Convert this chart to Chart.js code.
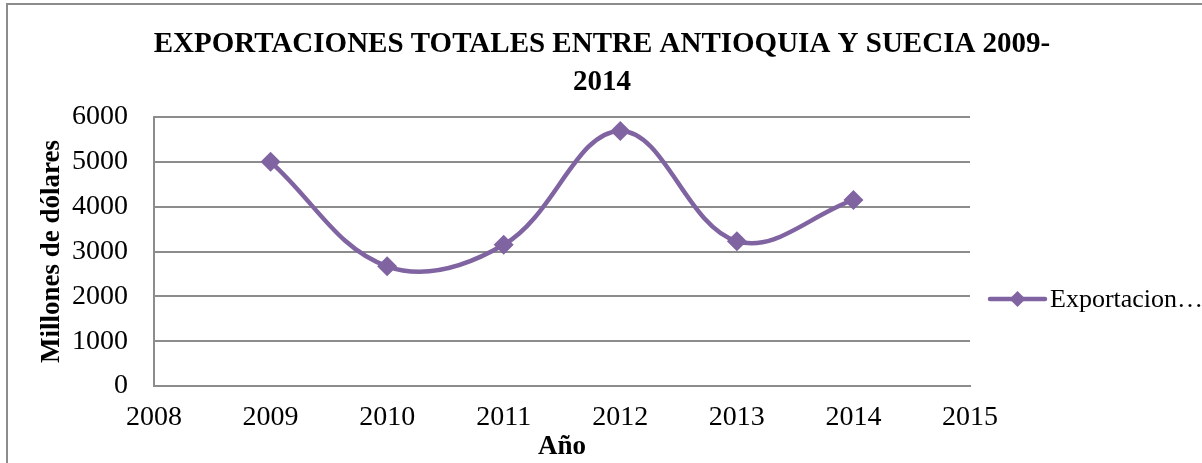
<!DOCTYPE html>
<html>
<head>
<meta charset="utf-8">
<script src="https://cdn.jsdelivr.net/npm/chart.js@4/dist/chart.umd.min.js"></script>
<style>
  html, body { margin: 0; padding: 0; background: #fff; overflow: hidden; }
  #wrap { position: relative; width: 1202px; height: 463px; }
  #frame { position: absolute; left: 6px; top: 3px; width: 1400px; height: 700px;
           border: 2px solid #8c8c8c; box-sizing: border-box; }
  #chart { position: absolute; left: 0; top: 0; }
</style>
</head>
<body>
<div id="wrap">
  <div id="frame"></div>
  <canvas id="chart" width="1202" height="463"></canvas>
</div>
<script>
var years = [2009, 2010, 2011, 2012, 2013, 2014];
var exportaciones = [5000, 2670, 3150, 5690, 3230, 4150];
var serieNombre = 'Exportaciones';
var tituloLineas = ['EXPORTACIONES TOTALES ENTRE ANTIOQUIA Y SUECIA 2009-', '2014'];

var morado = '#8064A2';
var gris = '#8c8c8c';
var serif = "'Liberation Serif', 'Times New Roman', serif";

var puntos = years.map(function(y, i) { return { x: y, y: exportaciones[i] }; });

// titulo centrado sobre todo el lienzo (no solo sobre el area del grafico)
var titulo = {
    id: 'tituloCentrado',
    afterDraw: function(chart) {
        var ctx = chart.ctx;
        ctx.save();
        ctx.font = 'bold 29px ' + serif;
        ctx.fillStyle = '#000';
        ctx.textAlign = 'center';
        ctx.textBaseline = 'middle';
        tituloLineas.forEach(function(l, i) {
            ctx.fillText(l, chart.width / 2 + 1, 45 + i * 38);
        });
        ctx.restore();
    }
};

// leyenda a la derecha: linea con rombo y texto recortado
var leyenda = {
    id: 'leyendaDerecha',
    afterDraw: function(chart) {
        var ctx = chart.ctx;
        var ds = chart.data.datasets[0];
        var y = 299, x0 = 990, x1 = 1045, cx = (x0 + x1) / 2, r = 8;
        ctx.save();
        ctx.strokeStyle = ds.borderColor;
        ctx.lineWidth = ds.borderWidth;
        ctx.lineCap = 'round';
        ctx.beginPath();
        ctx.moveTo(x0, y);
        ctx.lineTo(x1, y);
        ctx.stroke();
        ctx.fillStyle = ds.borderColor;
        ctx.beginPath();
        ctx.moveTo(cx, y - r);
        ctx.lineTo(cx + r, y);
        ctx.lineTo(cx, y + r);
        ctx.lineTo(cx - r, y);
        ctx.closePath();
        ctx.fill();

        ctx.font = '26px ' + serif;
        ctx.fillStyle = '#000';
        ctx.textBaseline = 'middle';
        var txt = ds.label, maxW = 140;
        if (ctx.measureText(txt).width > maxW) {
            while (txt.length > 1 && ctx.measureText(txt).width > maxW - 10) txt = txt.slice(0, -1);
            txt += '…';
        }
        ctx.fillText(txt, x1 + 5, y + 1);
        ctx.restore();
    }
};

new Chart(document.getElementById('chart'), {
    type: 'line',
    data: {
        datasets: [{
            label: serieNombre,
            data: puntos,
            borderColor: morado,
            backgroundColor: morado,
            borderWidth: 4.5,
            tension: 0.38,
            pointStyle: 'rectRot',
            pointRadius: 10,
            pointHoverRadius: 10,
            pointBorderWidth: 0
        }]
    },
    options: {
        responsive: false,
        animation: false,
        layout: { padding: { left: 0, right: 232, top: 117, bottom: 0 } },
        plugins: {
            legend: { display: false },
            tooltip: { enabled: false },
            title: { display: false }
        },
        scales: {
            x: {
                type: 'linear',
                min: 2008,
                max: 2015,
                ticks: {
                    stepSize: 1,
                    color: '#000',
                    padding: 15,
                    font: { family: serif, size: 28 },
                    callback: function(v) { return String(v); }
                },
                grid: { display: false, drawTicks: false },
                border: { display: true, color: gris, width: 2 },
                title: {
                    display: true,
                    text: 'Año',
                    color: '#000',
                    font: { family: serif, size: 27, weight: 'bold' },
                    padding: { top: -8, bottom: 0 }
                },
                afterFit: function(s) { s.height = 77; }
            },
            y: {
                min: 0,
                max: 6000,
                ticks: {
                    stepSize: 1000,
                    color: '#000',
                    padding: 26,
                    font: { family: serif, size: 28 },
                    callback: function(v) { return String(v); }
                },
                grid: { color: gris, lineWidth: 2, drawTicks: false },
                border: { display: true, color: gris, width: 2 },
                title: {
                    display: true,
                    text: 'Millones de dólares',
                    color: '#000',
                    font: { family: serif, size: 27, weight: 'bold' },
                    padding: { top: 36, bottom: 4 }
                },
                afterFit: function(s) { s.width = 154; }
            }
        }
    },
    plugins: [titulo, leyenda]
});
</script>
</body>
</html>
